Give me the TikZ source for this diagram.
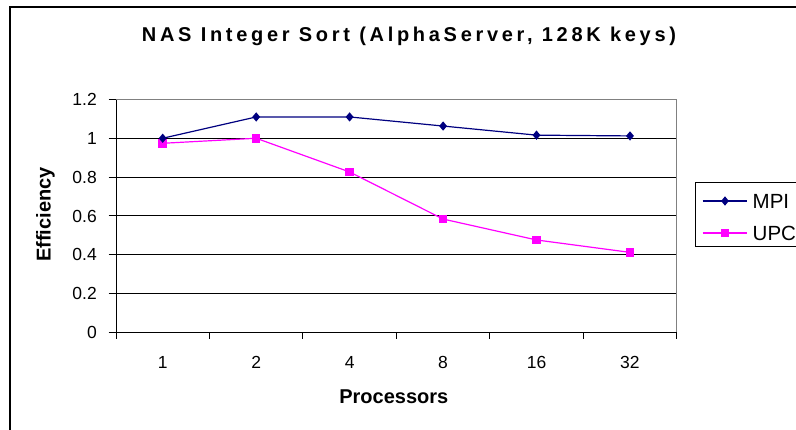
\documentclass[tikz,border=0pt]{standalone}
\usepackage{fontspec}
\setmainfont{Liberation Sans}
\newfontfamily\titlefont[LetterSpace=18.5]{Liberation Sans}
\usetikzlibrary{shapes.geometric}
\definecolor{mpicol}{HTML}{000080}
\definecolor{upccol}{HTML}{FF00FF}
\definecolor{bordergray}{HTML}{808080}
\tikzset{
  grid line/.style={black, line width=1pt},
  axis line/.style={black, line width=1pt},
  plot border/.style={bordergray, line width=1pt},
  mpi line/.style={mpicol, line width=1.2pt},
  upc line/.style={upccol, line width=1.2pt},
  mpimark/.style={diamond, fill=mpicol, inner sep=0pt, minimum width=8pt, minimum height=9.5pt},
  upcmark/.style={rectangle, fill=upccol, inner sep=0pt, minimum size=8.5pt},
  ticklab/.style={inner sep=0pt, font=\fontsize{17.5}{18}\selectfont},
  axislab/.style={inner sep=0pt, font=\fontsize{20}{22}\selectfont\bfseries},
  leglab/.style={inner sep=0pt, anchor=base west, font=\fontsize{20.5}{22}\selectfont},
  titlelab/.style={inner sep=0pt, anchor=base, font=\titlefont\fontsize{20}{22}\selectfont\bfseries},
}
\begin{document}
\begin{tikzpicture}[x=1pt,y=-1pt]
\useasboundingbox (0,0) rectangle (796,429);
\clip (0,0) rectangle (796,429);
\fill[white] (0,0) rectangle (796,429);
% outer chart frame
\draw[black, line width=1.5pt] (10,440) -- (10,7) -- (810,7);
% title
\node[titlelab] (title) at (409,41) {NAS Integer Sort (AlphaServer, 128K keys)};
% gridlines
\foreach \v/\lab in {0.2/0.2,0.4/0.4,0.6/0.6,0.8/0.8,1/1}{
  \draw[grid line] (116,{332-\v*193.75}) -- (676.7,{332-\v*193.75});
}
% plot border (top and right)
\draw[plot border] (116,99.5) -- (676.7,99.5) -- (676.7,332);
% axes
\draw[axis line] (116,99.5) -- (116,332) -- (676.7,332);
% y ticks and labels
\foreach \v/\lab in {0/0,0.2/0.2,0.4/0.4,0.6/0.6,0.8/0.8,1/1,1.2/1.2}{
  \draw[axis line] (108.5,{332-\v*193.75}) -- (116,{332-\v*193.75});
  \node[ticklab, anchor=base east] (y\lab) at (97,{332-\v*193.75+6.3}) {\lab};
}
% x ticks
\foreach \i in {0,...,6}{
  \draw[axis line] ({116+93.45*\i},332) -- ({116+93.45*\i},338.5);
}
% x labels
\foreach \i/\lab in {0/1,1/2,2/4,3/8,4/16,5/32}{
  \node[ticklab, anchor=base] (x\lab) at ({116+93.45*(\i+0.5)},368.3) {\lab};
}
% axis titles
\node[axislab, anchor=base] (xtitle) at (393.8,403.3) {Processors};
\node[axislab, rotate=90, anchor=base] (ytitle) at (50.5,214.5) {Efficiency};
% data coordinates
\coordinate (m1) at (162.7,{332-1.000*193.75});
\coordinate (m2) at (256.2,{332-1.110*193.75});
\coordinate (m3) at (349.6,{332-1.110*193.75});
\coordinate (m4) at (443.1,{332-1.063*193.75});
\coordinate (m5) at (536.5,{332-1.016*193.75});
\coordinate (m6) at (630.0,{332-1.012*193.75});
\coordinate (u1) at (162.7,{332-0.974*193.75});
\coordinate (u2) at (256.2,{332-1.000*193.75});
\coordinate (u3) at (349.6,{332-0.826*193.75});
\coordinate (u4) at (443.1,{332-0.583*193.75});
\coordinate (u5) at (536.5,{332-0.475*193.75});
\coordinate (u6) at (630.0,{332-0.411*193.75});
\draw[upc line] (u1) -- (u2) -- (u3) -- (u4) -- (u5) -- (u6);
\draw[mpi line] (m1) -- (m2) -- (m3) -- (m4) -- (m5) -- (m6);
\foreach \k in {1,...,6}{
  \node[upcmark] (upc\k) at (u\k) {};
  \node[mpimark] (mpi\k) at (m\k) {};
}
% legend
\draw[black, line width=1pt] (810,182.7) -- (695,182.7) -- (695,246.7) -- (810,246.7);
\coordinate (lm0) at (702.7,201);
\coordinate (lm1) at (747,201);
\coordinate (lu0) at (702.7,233);
\coordinate (lu1) at (747,233);
\draw[mpi line] (lm0) -- (lm1);
\draw[upc line] (lu0) -- (lu1);
\node[mpimark] (legmpi) at (725,201) {};
\node[upcmark] (legupc) at (725,233) {};
\node[leglab] (legmpitext) at (752.5,208.3) {MPI};
\node[leglab] (legupctext) at (752.5,240.3) {UPC};
\end{tikzpicture}
\end{document}
